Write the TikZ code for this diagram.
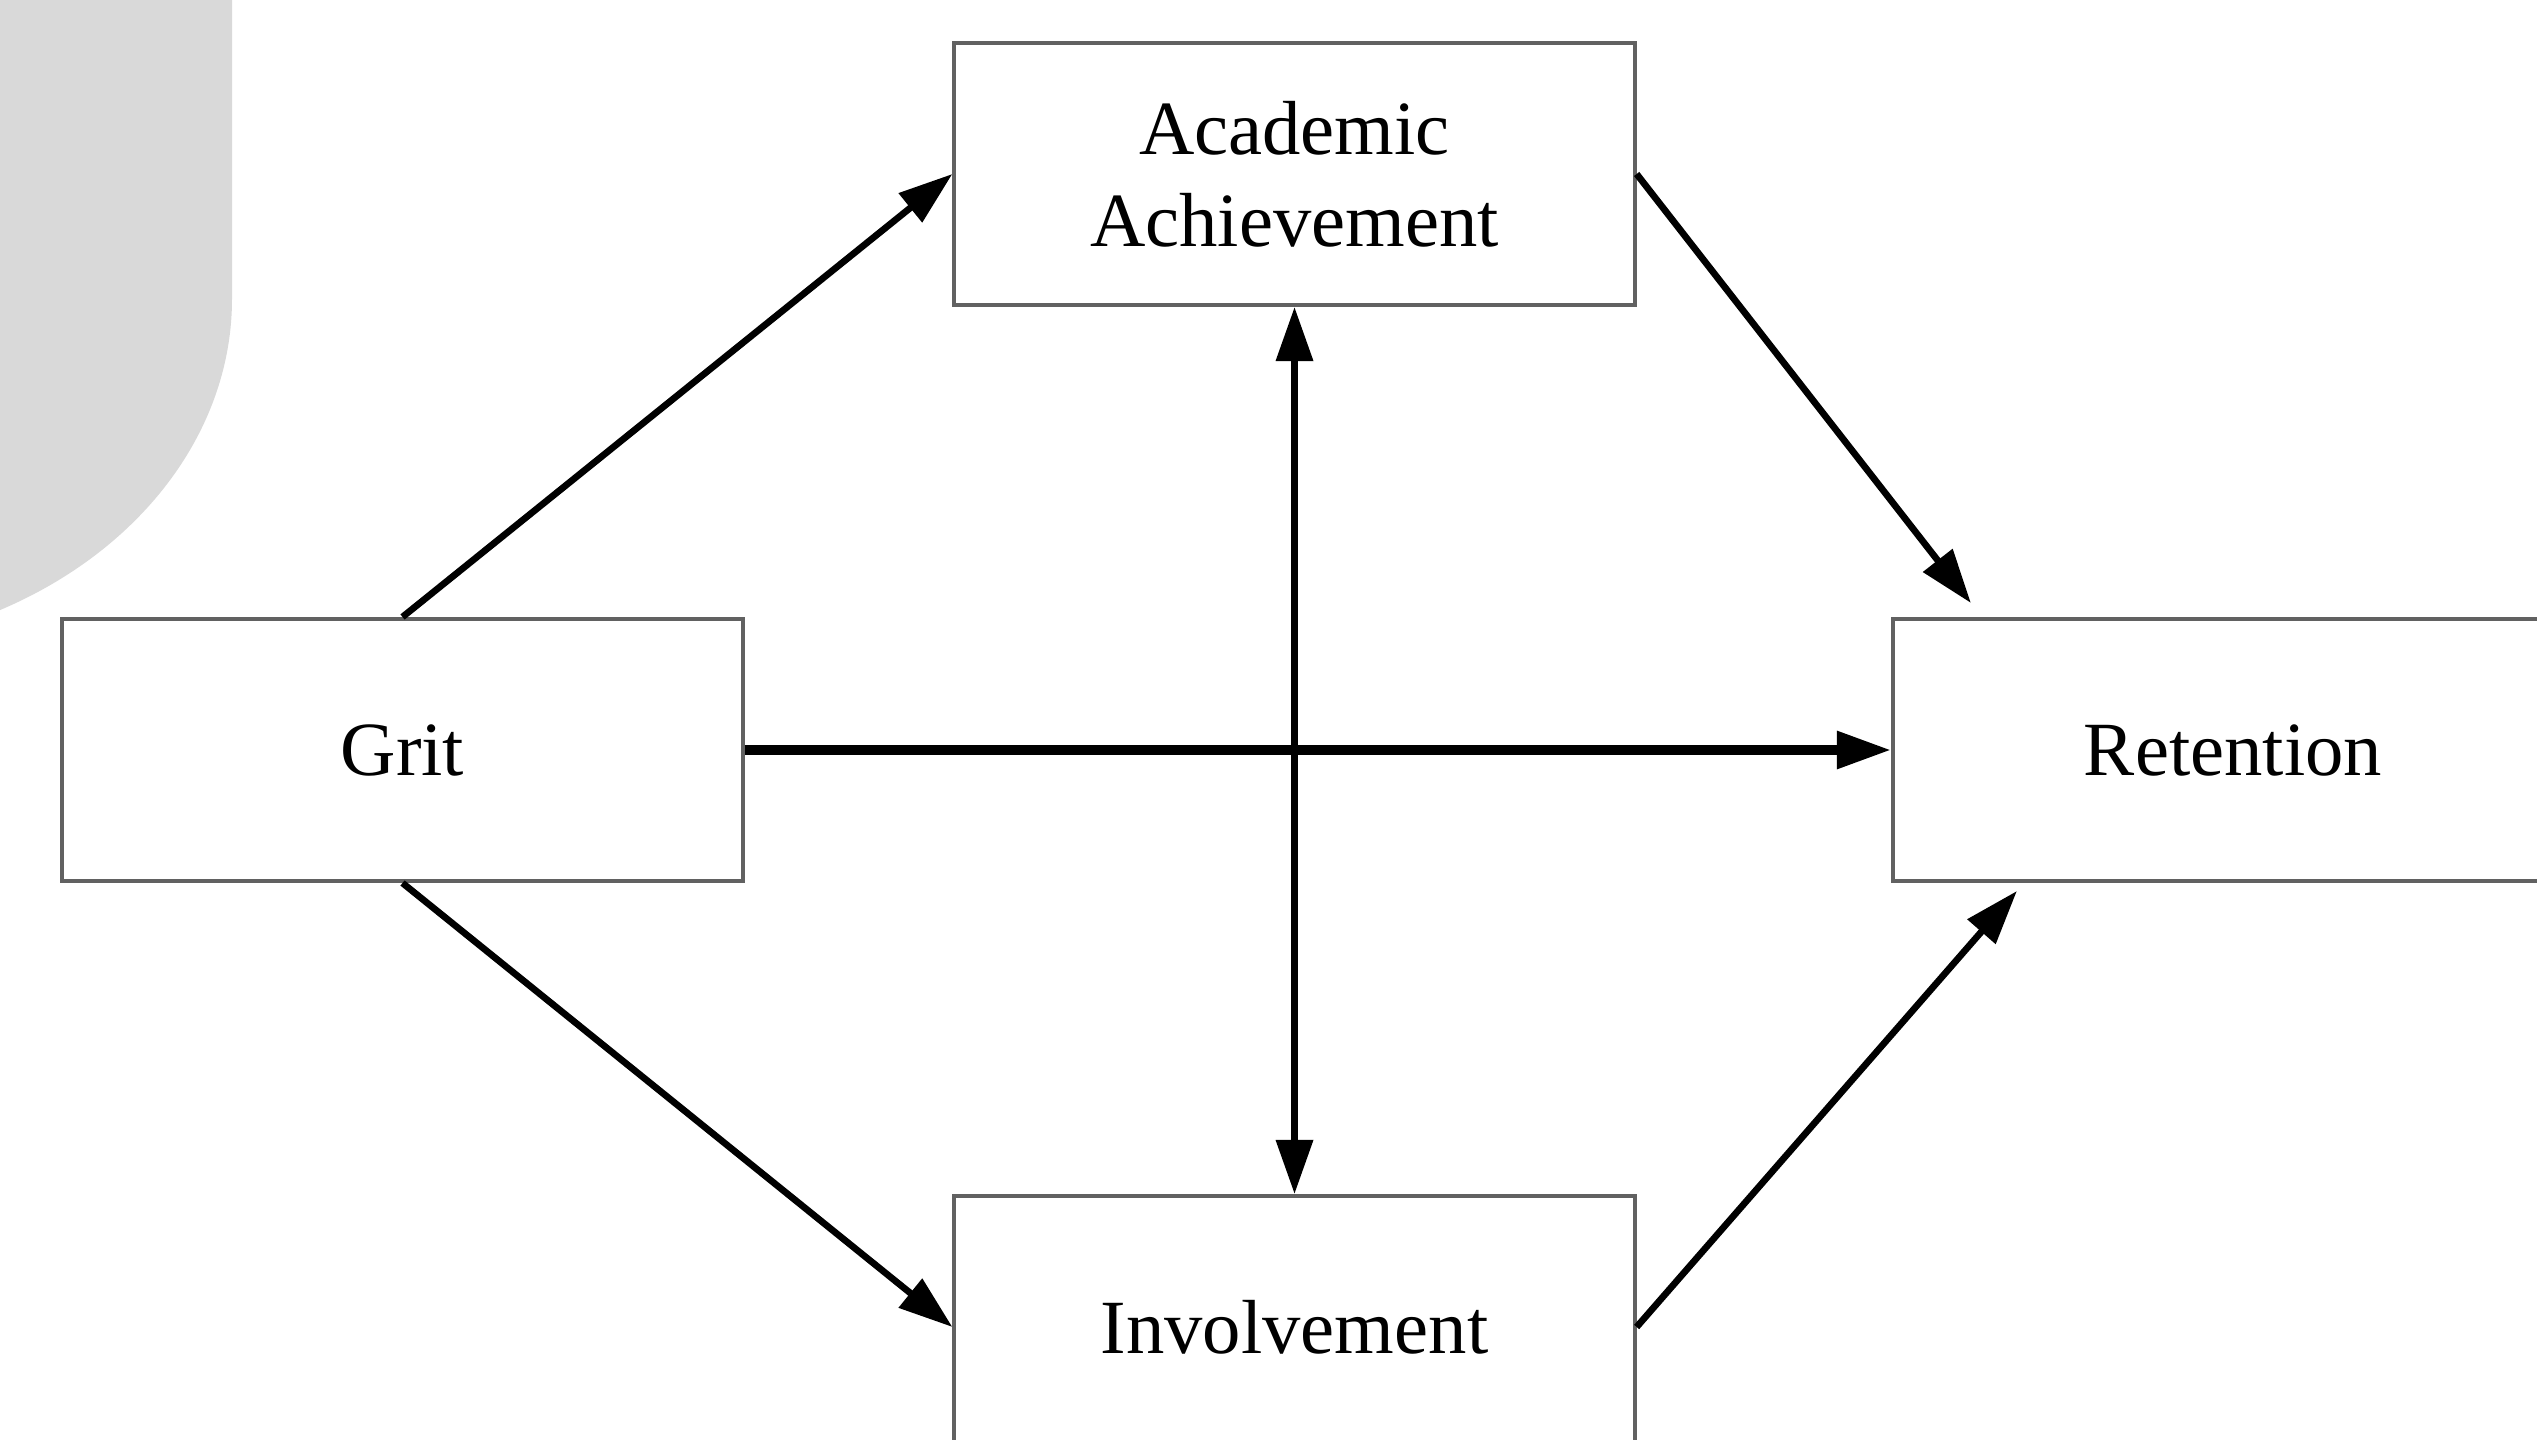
\documentclass[tikz,border=0pt]{standalone}
\usepackage{fontspec}
\setmainfont{Liberation Serif}
\usetikzlibrary{arrows.meta}

\begin{document}
\begin{tikzpicture}[x=0.01cm, y=0.01cm,
		box/.style={draw=black!62, line width=1.1pt, fill=white,
			minimum width=6.8cm, minimum height=2.62cm, align=center,
			font=\fontsize{21.8}{26.2}\selectfont},
		arr/.style={line width=1.9pt, -{Triangle[length=0.54cm, width=0.36cm]}}]
		% frame
		\useasboundingbox (0,0) rectangle (2537,1439);
		\clip (0,0) rectangle (2537,1439);
		% grey corner
		\fill[color=black!15] (0,1439) -- (232,1439) -- (232,1140)
			arc[start angle=0, end angle=-62.4, x radius=432, y radius=351] -- cycle;
		% boxes
		\node[box] (aa) at (1294.5,1265) {Academic\\Achievement};
		\node[box] (grit) at (402.5,689) {Grit};
		\node[box] (ret) at (2233,689) {Retention};
		\node[box] (inv) at (1294.5,112) {Involvement};
		% arrow ends near retention
		\coordinate (rettop) at ([shift={(80,14)}]ret.north west);
		\coordinate (retbot) at ([shift={(126,-8)}]ret.south west);
		% arrows
		\draw[arr] (grit.north) -- (aa.west);
		\draw[arr] (aa.east) -- (rettop);
		\draw[arr, line width=2.6pt] (grit.east) -- (ret.west);
		\draw[arr, {Triangle[length=0.54cm, width=0.36cm]}-{Triangle[length=0.54cm, width=0.36cm]}] (aa.south) -- (inv.north);
		\draw[arr] (grit.south) -- (inv.west);
		\draw[arr] (inv.east) -- (retbot);
	\end{tikzpicture}
\end{document}
